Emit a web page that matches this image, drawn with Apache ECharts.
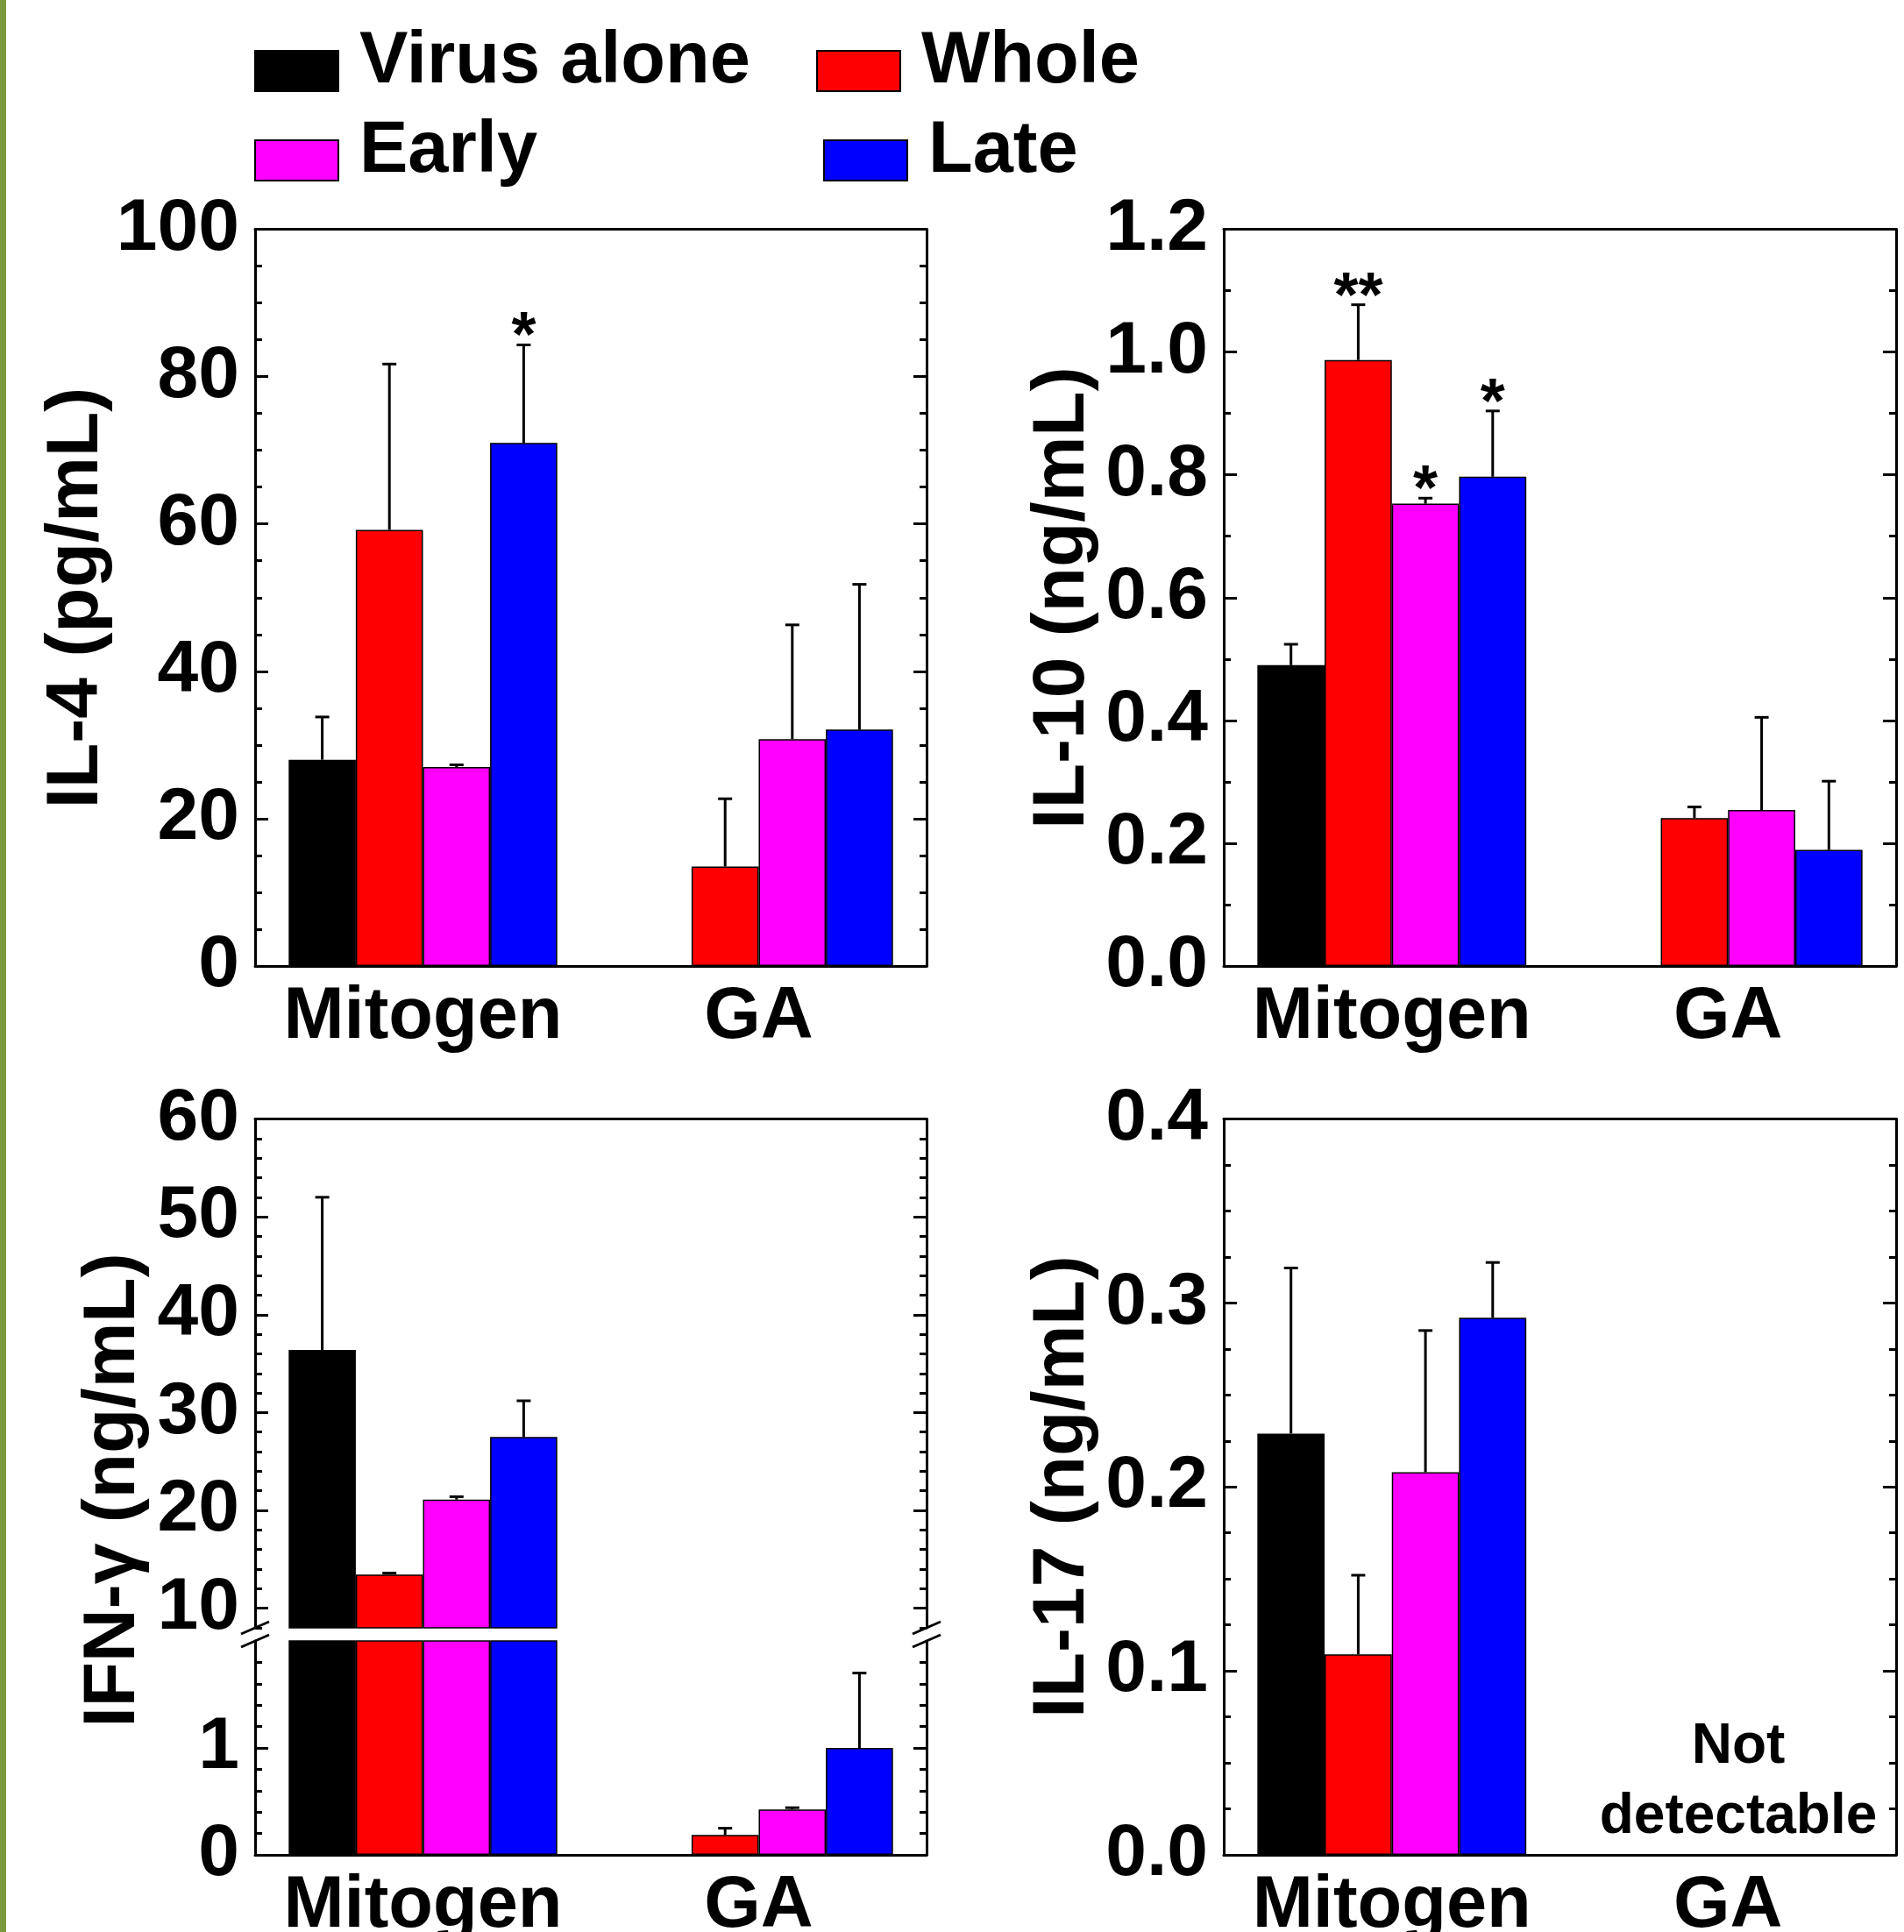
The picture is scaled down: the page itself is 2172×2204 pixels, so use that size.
<!DOCTYPE html>
<html>
<head>
<meta charset="utf-8">
<script src="https://cdn.jsdelivr.net/npm/echarts@6/dist/echarts.min.js"></script>
<style>html,body{margin:0;padding:0;background:#fff}#c{width:2172px;height:2204px}</style>
</head>
<body>
<div id="c"></div>
<script>
// ---------------- DATA ----------------
const categories = ['Mitogen', 'GA'];
const seriesNames = ['Virus alone', 'Whole', 'Early', 'Late'];

// IL-4 (pg/mL): one row per series, [Mitogen, GA]
const il4Mean   = [[28.0, null], [59.2, 13.5], [27.0, 30.8], [71.0, 32.1]];
const il4ErrTop = [[33.8, null], [81.7, 22.7], [27.3, 46.3], [84.3, 51.8]];
const il4Stars  = [['', ''], ['', ''], ['', ''], ['*', '']];
const il4Ticks  = [0, 20, 40, 60, 80, 100];

// IL-10 (ng/mL)
const il10Mean   = [[0.490, null], [0.987, 0.241], [0.753, 0.254], [0.797, 0.189]];
const il10ErrTop = [[0.524, null], [1.077, 0.259], [0.762, 0.405], [0.904, 0.301]];
const il10Stars  = [['', ''], ['**', ''], ['*', ''], ['*', '']];
const il10Ticks  = [0, 0.2, 0.4, 0.6, 0.8, 1.0, 1.2];

// IFN-gamma (ng/mL), broken axis
const ifnMean   = [[36.4, null], [13.45, 0.186], [21.1, 0.425], [27.5, 1.00]];
const ifnErrTop = [[52.0, null], [13.6, 0.249], [21.4, 0.441], [31.2, 1.70]];
const ifnUpperTicks = [10, 20, 30, 40, 50, 60];
const ifnUpperMin = 8;
const ifnLowerTicks = [0, 1];
const ifnLowerMax = 2;

// IL-17 (ng/mL)
const il17Mean   = [[0.229, null], [0.109, null], [0.208, null], [0.292, null]];
const il17ErrTop = [[0.319, null], [0.152, null], [0.285, null], [0.322, null]];
const il17Ticks  = [0, 0.1, 0.2, 0.3, 0.4];

const axisTitles = ['IL-4 (pg/mL)', 'IL-10 (ng/mL)', 'IFN-\u03b3 (ng/mL)', 'IL-17 (ng/mL)'];
const noteText = 'Not\ndetectable';

// ---------------- STYLE / LAYOUT ----------------
const FONT = '"Liberation Sans", Arial, Helvetica, sans-serif';
const COLORS = ['#000000', '#ff0000', '#ff00ff', '#0000ff'];
const W = 2172, H = 2204;
const LAYOUT = {
  p1:  {left: 291,  top: 261.5,  width: 766, height: 840.5},
  p2:  {left: 1396, top: 261.5,  width: 767, height: 840.5},
  p3u: {left: 291,  top: 1276.5, width: 766, height: 580.5},
  p3l: {left: 291,  top: 1872,   width: 766, height: 244},
  p4:  {left: 1396, top: 1276.5, width: 767, height: 839.5}
};

const grids = [], xAxes = [], yAxes = [], series = [];

function addGrid(rect) {
  grids.push(Object.assign({show: false, containLabel: false, outerBoundsMode: 'none'}, rect));
  return grids.length - 1;
}
function addX(gi, pos, showLine, showLabel) {
  xAxes.push({
    gridIndex: gi, type: 'category', data: categories, position: pos,
    axisLine: {show: showLine, onZero: false, lineStyle: {color: '#000', width: 3}},
    axisTick: {show: false}, splitLine: {show: false},
    axisLabel: {show: showLabel, interval: 0, hideOverlap: false, fontFamily: FONT, fontWeight: 'bold',
                fontSize: 83, color: '#000', margin: 18}
  });
  return xAxes.length - 1;
}
function addY(gi, pos, o) {
  const ax = {
    gridIndex: gi, type: 'value', position: pos, min: o.min, max: o.max,
    axisLine: {show: o.showLine !== false, onZero: false, lineStyle: {color: '#000', width: 3}},
    axisTick: {show: true, inside: true, length: o.tickLen || 15, lineStyle: {color: '#000', width: 3}},
    minorTick: {show: !!o.minorSplit, splitNumber: o.minorSplit || 5, length: 8, lineStyle: {color: '#000', width: 3}},
    splitLine: {show: false}, minorSplitLine: {show: false},
    axisLabel: {show: !!o.labels, fontFamily: FONT, fontWeight: 'bold', fontSize: 84, color: '#000', margin: 18}
  };
  if (o.formatter) ax.axisLabel.formatter = o.formatter;
  if (o.interval != null) ax.interval = o.interval;
  if (o.tickCustom) ax.axisTick.customValues = o.tickCustom;
  if (o.labelCustom) ax.axisLabel.customValues = o.labelCustom;
  yAxes.push(ax);
  return yAxes.length - 1;
}
function addBars(xi, yi, means, keep) {
  for (let s = 0; s < 4; s++) {
    series.push({
      type: 'bar', name: seriesNames[s], xAxisIndex: xi, yAxisIndex: yi,
      data: means[s].map(v => (v != null && keep(v)) ? v : null),
      barGap: '0%', barCategoryGap: '20%', clip: true, z: 2,
      itemStyle: {color: COLORS[s], borderColor: '#000', borderWidth: 1.5},
      emphasis: {disabled: true}, silent: true
    });
  }
}
function addErr(xi, yi, means, errs, stars, keep) {
  const items = [], starTxt = [];
  for (let s = 0; s < 4; s++) {
    for (let c = 0; c < categories.length; c++) {
      const m = means[s][c], e = errs[s][c];
      if (m == null || e == null || !keep(m)) continue;
      items.push([c, s, m, e]);
      starTxt.push(stars ? stars[s][c] : '');
    }
  }
  series.push({
    type: 'custom', xAxisIndex: xi, yAxisIndex: yi, data: items,
    encode: {x: 0, y: [2, 3]}, z: 5, silent: true,
    renderItem(params, api) {
      const c = api.value(0), s = api.value(1);
      const base = api.coord([c, api.value(2)]);
      const top = api.coord([c, api.value(3)]);
      const catW = api.size([1, 0])[0];
      const bw = catW * 0.8 / 4;
      const x = base[0] + (s - 1.5) * bw;
      const children = [
        {type: 'line', shape: {x1: x, y1: base[1], x2: x, y2: top[1]}, style: {stroke: '#000', lineWidth: 3}},
        {type: 'line', shape: {x1: x - 8, y1: top[1], x2: x + 8, y2: top[1]}, style: {stroke: '#000', lineWidth: 3}}
      ];
      const st = starTxt[params.dataIndex];
      if (st) {
        children.push({type: 'text', x: x, y: top[1] - 7,
          style: {text: st, fill: '#000', fontFamily: FONT, fontWeight: 'bold', fontSize: 72,
                  align: 'center', verticalAlign: 'middle'}});
      }
      return {type: 'group', children};
    }
  });
}
function standardPanel(rect, ticks, minorSplit, fmt, means, errs, stars) {
  const g = addGrid(rect);
  const xb = addX(g, 'bottom', true, true);
  addX(g, 'top', true, false);
  const mn = ticks[0], mx = ticks[ticks.length - 1], iv = ticks[1] - ticks[0];
  const yl = addY(g, 'left', {min: mn, max: mx, interval: iv, minorSplit, labels: true, formatter: fmt});
  addY(g, 'right', {min: mn, max: mx, interval: iv, minorSplit, labels: false});
  addBars(xb, yl, means, () => true);
  addErr(xb, yl, means, errs, stars, () => true);
}

// Panel 1: IL-4
standardPanel(LAYOUT.p1, il4Ticks, 4, v => String(Math.round(v)), il4Mean, il4ErrTop, il4Stars);
// Panel 2: IL-10
standardPanel(LAYOUT.p2, il10Ticks, 2, v => v.toFixed(1), il10Mean, il10ErrTop, il10Stars);

// Panel 3: IFN-gamma, upper part
(function () {
  const mx = ifnUpperTicks[ifnUpperTicks.length - 1];
  const g = addGrid(LAYOUT.p3u);
  const xt = addX(g, 'top', true, false);
  const yl = addY(g, 'left', {min: ifnUpperMin, max: mx, interval: 2, labels: true,
    tickCustom: ifnUpperTicks, labelCustom: ifnUpperTicks});
  addY(g, 'left', {min: ifnUpperMin, max: mx, interval: 2, labels: false, showLine: false, tickLen: 8});
  addY(g, 'right', {min: ifnUpperMin, max: mx, interval: 2, labels: false, tickCustom: ifnUpperTicks});
  addY(g, 'right', {min: ifnUpperMin, max: mx, interval: 2, labels: false, showLine: false, tickLen: 8});
  addBars(xt, yl, ifnMean, v => v >= ifnUpperMin);
  addErr(xt, yl, ifnMean, ifnErrTop, null, v => v >= ifnUpperMin);
})();
// Panel 3: lower part
(function () {
  const g = addGrid(LAYOUT.p3l);
  const xb = addX(g, 'bottom', true, true);
  const yl = addY(g, 'left', {min: 0, max: ifnLowerMax, interval: 1, minorSplit: 5, labels: true,
    tickCustom: ifnLowerTicks, labelCustom: ifnLowerTicks});
  addY(g, 'right', {min: 0, max: ifnLowerMax, interval: 1, minorSplit: 5, labels: false, tickCustom: ifnLowerTicks});
  addBars(xb, yl, ifnMean, () => true);
  addErr(xb, yl, ifnMean, ifnErrTop, null, v => v < ifnLowerMax);
})();

// Panel 4: IL-17
standardPanel(LAYOUT.p4, il17Ticks, 4, v => v.toFixed(1), il17Mean, il17ErrTop, null);

// ---------------- LEGENDS ----------------
const legendPos = [{left: 290, top: 30}, {left: 931, top: 30}, {left: 290, top: 132}, {left: 939, top: 132}];
const legends = seriesNames.map((n, i) => ({
  data: [n], left: legendPos[i].left, top: legendPos[i].top, orient: 'horizontal', padding: 0,
  itemWidth: 95, itemHeight: 46, icon: 'rect', selectedMode: false,
  formatter: name => '{t|' + name + '}',
  textStyle: {
    fontFamily: FONT, fontWeight: 'bold', fontSize: 83, color: '#000',
    rich: {t: {fontFamily: FONT, fontWeight: 'bold', fontSize: 83, color: '#000',
               lineHeight: 102, verticalAlign: 'top', padding: [0, 0, 0, 19]}}
  }
}));

// ---------------- DECORATIONS ----------------
const graphics = [];
graphics.push({type: 'rect', shape: {x: 0, y: 0, width: 7, height: H}, style: {fill: '#7b993d'}, silent: true});
const titlePos = [[88, 682], [1213, 682], [130, 1700], [1213, 1696]];
axisTitles.forEach((t, i) => {
  graphics.push({type: 'text', x: titlePos[i][0], y: titlePos[i][1], rotation: Math.PI / 2, silent: true,
    style: {text: t, fill: '#000', fontFamily: FONT, fontWeight: 'bold', fontSize: 84, align: 'center', verticalAlign: 'middle'}});
});
// axis break marks
const upperBottom = LAYOUT.p3u.top + LAYOUT.p3u.height;
const lowerTop = LAYOUT.p3l.top;
[LAYOUT.p3u.left, LAYOUT.p3u.left + LAYOUT.p3u.width].forEach(ax => {
  [upperBottom, lowerTop].forEach(yy => {
    graphics.push({type: 'line', silent: true, shape: {x1: ax - 16, y1: yy + 7, x2: ax + 16, y2: yy - 7},
      style: {stroke: '#000', lineWidth: 3}});
  });
});
graphics.push({type: 'text', x: 1983, y: 2033, silent: true,
  style: {text: noteText, fill: '#000', fontFamily: FONT, fontWeight: 'bold', fontSize: 64, lineHeight: 80,
          align: 'center', verticalAlign: 'middle'}});

const chart = echarts.init(document.getElementById('c'), null, {renderer: 'canvas', width: W, height: H});
chart.setOption({
  animation: false,
  backgroundColor: '#ffffff',
  grid: grids, xAxis: xAxes, yAxis: yAxes, series: series,
  legend: legends,
  graphic: graphics
});
</script>
</body>
</html>
